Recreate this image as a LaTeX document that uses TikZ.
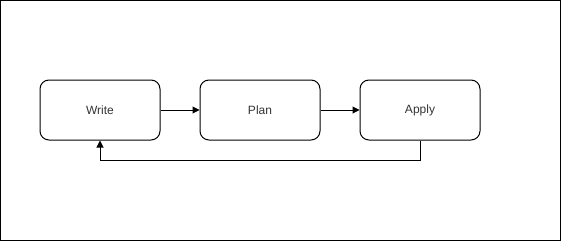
\documentclass[tikz,border=0pt]{standalone}
\usepackage{fontspec}
\setmainfont{Liberation Sans}
\usetikzlibrary{arrows.meta}
\begin{document}
\begin{tikzpicture}[x=1pt,y=-1pt,
  stagebox/.style={draw=black,line width=1pt,rounded corners=9pt,minimum width=120pt,minimum height=60pt,inner sep=0pt,font=\fontsize{12pt}{14pt}\selectfont,text=black!80},
  flow/.style={draw=black,line width=1pt,-{Triangle[length=7pt,width=7pt]}}]
\useasboundingbox (0,0) rectangle (561,241);
\draw[line width=1pt] (0.5,0.5) rectangle (560.5,240.5);
\node[stagebox] (write) at (100,110) {Write};
\node[stagebox] (plan) at (260,110) {Plan};
\node[stagebox] (apply) at (420,110) {Apply};
\draw[flow] (write) -- (plan);
\draw[flow] (plan) -- (apply);
\coordinate (c1) at (420,160);
\coordinate (c2) at (100,160);
\draw[flow] (apply.south) -- (c1) -- (c2) -- (write.south);
\end{tikzpicture}
\end{document}
